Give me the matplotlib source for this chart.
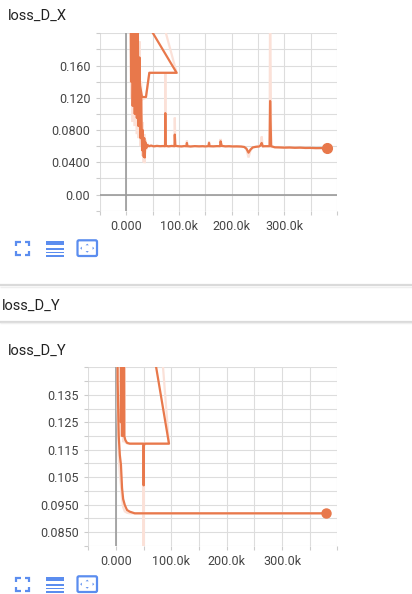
import matplotlib
matplotlib.use('Agg')
import matplotlib.pyplot as plt
from matplotlib.ticker import FixedLocator, FixedFormatter, NullFormatter
from matplotlib.patches import Rectangle, FancyBboxPatch, Polygon

plt.rcParams['font.family'] = ['Roboto', 'DejaVu Sans']

# ---------------- data (steps in thousands) ----------------
# loss_D_X : smoothed line, first session then restarted session
dx_s1_steps = [8, 12, 17, 22, 26, 29.8, 37.3, 43.6, 95.5]
dx_s1_vals = [0.35, 0.27, 0.21, 0.17, 0.135, 0.121, 0.121, 0.151, 0.151]

dx_s2_steps = [5, 7, 9, 11, 12, 14, 16, 18, 20, 21, 23, 25, 27, 28, 30, 31, 33, 34, 35, 36,
               38, 40, 43, 47, 52, 58, 64, 70, 73.5, 74, 74.7, 80, 86, 91.5, 92, 93, 98,
               105, 110, 114, 115, 116, 122, 130, 138, 145, 150, 156, 157, 158, 165, 172,
               178, 179, 181, 188, 195, 202, 210, 218, 224, 228, 232, 236, 240, 246, 252,
               255, 257, 259, 263, 268, 272, 273, 275, 282, 290, 300, 310, 320, 330, 340,
               350, 360, 370, 381]
dx_s2_vals = [0.25, 0.36, 0.14, 0.30, 0.11, 0.24, 0.10, 0.21, 0.095, 0.30, 0.085, 0.17, 0.07,
              0.12, 0.055, 0.08, 0.047, 0.07, 0.046, 0.065,
              0.058, 0.0615, 0.0600, 0.0608, 0.0598, 0.0604, 0.0600, 0.0602, 0.0600, 0.101,
              0.0605, 0.0598, 0.0603, 0.0600, 0.0744, 0.0606, 0.0600,
              0.0597, 0.0602, 0.0600, 0.0640, 0.0600, 0.0596, 0.0601, 0.0598, 0.0600, 0.0597,
              0.0601, 0.0640, 0.0600, 0.0598, 0.0601,
              0.0600, 0.0660, 0.0604, 0.0598, 0.0600, 0.0597, 0.0598, 0.0596, 0.0590, 0.0570,
              0.0520, 0.0560, 0.0585, 0.0592, 0.0596,
              0.0610, 0.0640, 0.0598, 0.0600, 0.0600, 0.0600, 0.1160, 0.0600, 0.0586, 0.0585,
              0.0582, 0.0584, 0.0580, 0.0582, 0.0578,
              0.0579, 0.0576, 0.0577, 0.0574]

# loss_D_X : raw (unsmoothed) values
dx_r1_steps = [6, 10, 15, 22, 27, 30, 37, 44, 95.5]
dx_r1_vals = [0.45, 0.30, 0.24, 0.17, 0.12, 0.118, 0.120, 0.151, 0.151]
dx_r2_steps = [5, 7, 9, 11, 12, 14, 16, 18, 20, 21, 23, 25, 27, 28, 30, 31, 33, 34, 35, 36,
               38, 40, 43, 60, 73.5, 74, 74.7, 91.5, 92, 93, 114, 115, 116, 156, 157, 158,
               178, 179, 181, 224, 228, 232, 236, 240, 255, 257, 259, 272, 273, 275, 300, 381]
dx_r2_vals = [0.37, 0.40, 0.12, 0.33, 0.09, 0.27, 0.085, 0.24, 0.075, 0.33, 0.07, 0.19, 0.06,
              0.14, 0.048, 0.09, 0.040, 0.075, 0.039, 0.068,
              0.056, 0.063, 0.0598, 0.0600, 0.0600, 0.152, 0.0600, 0.0600, 0.0955, 0.0600,
              0.0600, 0.0670, 0.0600, 0.0600, 0.0660, 0.0600,
              0.0600, 0.0690, 0.0600, 0.0590, 0.0560, 0.0460, 0.0550, 0.0585, 0.0610, 0.0720,
              0.0598, 0.0600, 0.2500, 0.0590, 0.0582, 0.0574]

# loss_D_Y : smoothed line
dy_s1_steps = [6, 7, 8, 9, 10, 11, 12, 13, 14, 15, 17, 20, 25, 49.5, 50, 50.5, 52, 95.8]
dy_s1_vals = [0.25, 0.15, 0.30, 0.125, 0.28, 0.12, 0.26, 0.12, 0.20, 0.12, 0.1185, 0.1175,
              0.1172, 0.1172, 0.1020, 0.1165, 0.1172, 0.1172]
dy_s2_steps = [2, 3, 5, 7, 9, 11, 13, 16, 20, 25, 34, 380]
dy_s2_vals = [0.23, 0.14, 0.12, 0.113, 0.1095, 0.101, 0.097, 0.0948, 0.0930, 0.0924,
              0.0918, 0.0918]

# loss_D_Y : raw values
dy_r1_steps = [4, 6, 8, 10, 12, 13, 15, 16, 18, 21, 25, 49.5, 50, 50.5, 52, 95.8]
dy_r1_vals = [0.40, 0.20, 0.35, 0.12, 0.28, 0.118, 0.22, 0.118, 0.1175, 0.1172, 0.1172,
              0.1172, 0.060, 0.1172, 0.1172, 0.1172]
dy_r2_steps = [2, 3, 5, 7, 9, 11, 13, 16, 20, 25, 34, 380]
dy_r2_vals = [0.36, 0.13, 0.112, 0.106, 0.102, 0.097, 0.094, 0.0925, 0.0920, 0.0918,
              0.0918, 0.0918]

# ticks / labels
x_major = [0, 100, 200, 300]
x_labels = ['0.000', '100.0k', '200.0k', '300.0k']
x_minor = [-50, 50, 150, 250, 350, 400]

dx_y_major = [0.0, 0.04, 0.08, 0.12, 0.16]
dx_y_labels = ['0.00', '0.0400', '0.0800', '0.120', '0.160']
dx_y_minor = [-0.02, 0.02, 0.06, 0.10, 0.14, 0.18, 0.20]

dy_y_major = [0.085, 0.095, 0.105, 0.115, 0.125, 0.135]
dy_y_labels = ['0.0850', '0.0950', '0.105', '0.115', '0.125', '0.135']
dy_y_minor = [0.08, 0.09, 0.10, 0.11, 0.12, 0.13, 0.14, 0.145]

# ---------------- style ----------------
W, H, DPI = 412, 594, 100
LINE = '#e8784b'
PALE = '#fbe1d8'
GRID = '#dddddd'
ZERO = '#9a9a9a'
TXT = '#444444'
BLUE = '#5b8def'

fig = plt.figure(figsize=(W / DPI, H / DPI), dpi=DPI)
fig.patch.set_facecolor('white')


def px_axes(left, top, right, bottom):
    return fig.add_axes([left / W, 1 - bottom / H, (right - left) / W, (bottom - top) / H])


def style(ax, ymaj, ylab, ymin, ylim):
    ax.set_xlim(-50, 400)
    ax.set_ylim(*ylim)
    ax.xaxis.set_major_locator(FixedLocator(x_major))
    ax.xaxis.set_major_formatter(FixedFormatter(x_labels))
    ax.xaxis.set_minor_locator(FixedLocator(x_minor))
    ax.xaxis.set_minor_formatter(NullFormatter())
    ax.yaxis.set_major_locator(FixedLocator(ymaj))
    ax.yaxis.set_major_formatter(FixedFormatter(ylab))
    ax.yaxis.set_minor_locator(FixedLocator(ymin))
    ax.yaxis.set_minor_formatter(NullFormatter())
    ax.grid(True, which='both', color=GRID, lw=0.8, zorder=0)
    ax.set_axisbelow(True)
    for s in ax.spines.values():
        s.set_visible(False)
    ax.tick_params(which='both', direction='out', length=3, width=0.8, color='#cccccc',
                   labelsize=9, labelcolor=TXT, pad=4)
    ax.axvline(0, color=ZERO, lw=1.2, zorder=1)


# top chart: loss_D_X
ax1 = px_axes(100, 33.3, 337, 210.7)
style(ax1, dx_y_major, dx_y_labels, dx_y_minor, (-0.02, 0.2))
ax1.axhline(0, color=ZERO, lw=1.2, zorder=1)
ax1.plot(dx_r1_steps + dx_r2_steps, dx_r1_vals + dx_r2_vals, color=PALE, lw=1.6, zorder=2,
         solid_joinstyle='miter')
ax1.plot(dx_s1_steps + dx_s2_steps, dx_s1_vals + dx_s2_vals, color=LINE, lw=1.6, zorder=3)
ax1.plot([dx_s2_steps[-1]], [dx_s2_vals[-1]], 'o', color=LINE, ms=7, zorder=4, clip_on=False)

# bottom chart: loss_D_Y
ax2 = px_axes(88.3, 367.4, 337.3, 545.7)
style(ax2, dy_y_major, dy_y_labels, dy_y_minor, (0.08, 0.145))
ax2.plot(dy_r1_steps + dy_r2_steps, dy_r1_vals + dy_r2_vals, color=PALE, lw=1.6, zorder=2)
ax2.plot(dy_s1_steps + dy_s2_steps, dy_s1_vals + dy_s2_vals, color=LINE, lw=1.6, zorder=3)
ax2.plot([dy_s2_steps[-1]], [dy_s2_vals[-1]], 'o', color=LINE, ms=6.5, zorder=4, clip_on=False)

# ---------------- overlay (titles, card header, icons) ----------------
ov = fig.add_axes([0, 0, 1, 1], zorder=-1)
ov.set_xlim(0, W)
ov.set_ylim(H, 0)
ov.axis('off')

ov.text(7.5, 19.5, 'loss_D_X', fontsize=10.5, color='#212121', va='baseline', ha='left')
ov.text(1.5, 309.5, 'loss_D_Y', fontsize=10.5, color='#212121', va='baseline', ha='left')
ov.text(7.5, 354.5, 'loss_D_Y', fontsize=10.5, color='#212121', va='baseline', ha='left')

ov.plot([0, W], [285, 285], color='#dadada', lw=1.6, solid_capstyle='butt')
ov.plot([0, W], [286.5, 286.5], color='#efefef', lw=1.0, solid_capstyle='butt')
ov.plot([0, W], [321.5, 321.5], color='#dadada', lw=1.6, solid_capstyle='butt')
ov.plot([0, W], [323.0, 323.0], color='#efefef', lw=1.0, solid_capstyle='butt')


def icons(dy):
    # fullscreen corners
    x0, x1, y0, y1, a = 16.5, 29.5, 241.5 + dy, 255.0 + dy, 4.5
    for (cx, cy, sx, sy) in [(x0, y0, 1, 1), (x1, y0, -1, 1), (x0, y1, 1, -1), (x1, y1, -1, -1)]:
        ov.plot([cx + sx * a, cx, cx], [cy, cy, cy + sy * a], color=BLUE, lw=1.6,
                solid_joinstyle='miter', solid_capstyle='butt')
    # list icon
    ov.add_patch(Rectangle((46, 241.3 + dy), 18, 3.8, color=BLUE, lw=0))
    for yy in (248.0, 251.6, 255.2):
        ov.add_patch(Rectangle((46, yy + dy), 18, 1.8, color=BLUE, lw=0))
    # fit icon
    ov.add_patch(FancyBboxPatch((77.5, 240.3 + dy), 19.5, 15.7,
                                boxstyle='round,pad=0,rounding_size=1.5',
                                fill=False, ec=BLUE, lw=1.6))
    cx, cy, t = 87.2, 248.2 + dy, 1.6
    ov.add_patch(Polygon([[cx - t, cy - 4.5 + t], [cx + t, cy - 4.5 + t], [cx, cy - 4.5]], color=BLUE, lw=0))
    ov.add_patch(Polygon([[cx - t, cy + 4.5 - t], [cx + t, cy + 4.5 - t], [cx, cy + 4.5]], color=BLUE, lw=0))
    ov.add_patch(Polygon([[cx - 7 + t, cy - t], [cx - 7 + t, cy + t], [cx - 7, cy]], color=BLUE, lw=0))
    ov.add_patch(Polygon([[cx + 7 - t, cy - t], [cx + 7 - t, cy + t], [cx + 7, cy]], color=BLUE, lw=0))


icons(0)
icons(336)

fig.savefig('out.png', dpi=DPI, facecolor='white')
